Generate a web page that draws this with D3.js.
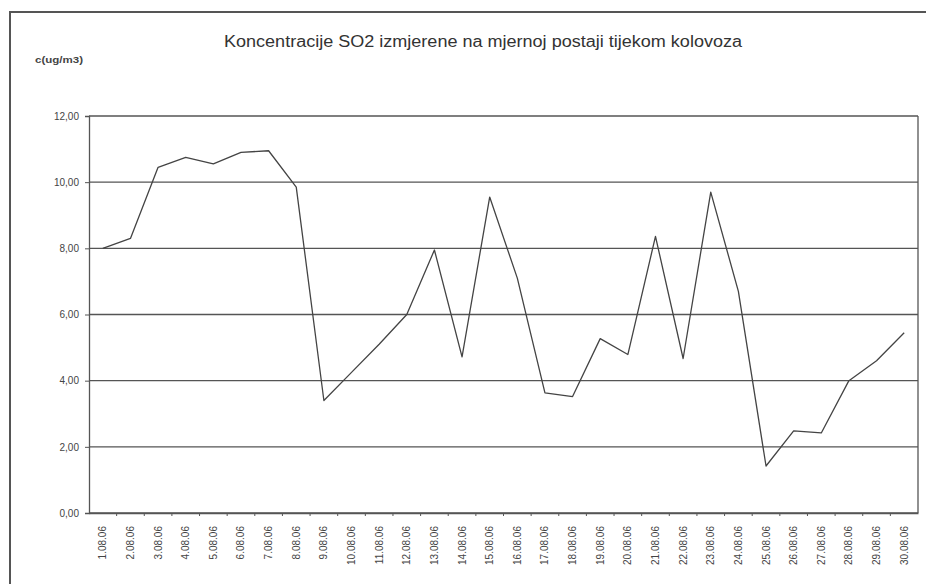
<!DOCTYPE html>
<html>
<head>
<meta charset="utf-8">
<script src="https://cdn.jsdelivr.net/npm/d3@7"></script>
<style>
  body { margin: 0; background: #fff; }
  svg { display: block; }
  .grid line { stroke: #555; stroke-width: 1.3; }
  .axis path, .axis line { stroke: #555; }
  .axis text { fill: #444; font-family: "Liberation Sans Narrow", "Liberation Sans", Arial, sans-serif; }
</style>
</head>
<body>
<svg class="chart"></svg>
<script>
// DATA /////////////////////////////////
const days = ["1.08.06", "2.08.06", "3.08.06", "4.08.06", "5.08.06", "6.08.06", "7.08.06", "8.08.06",
  "9.08.06", "10.08.06", "11.08.06", "12.08.06", "13.08.06", "14.08.06", "15.08.06", "16.08.06",
  "17.08.06", "18.08.06", "19.08.06", "20.08.06", "21.08.06", "22.08.06", "23.08.06", "24.08.06",
  "25.08.06", "26.08.06", "27.08.06", "28.08.06", "29.08.06", "30.08.06"];
const so2 = [8.0, 8.3, 10.45, 10.75, 10.55, 10.9, 10.95, 9.85, 3.4, 4.25, 5.1, 6.0, 7.95, 4.72, 9.55,
  7.1, 3.63, 3.52, 5.27, 4.79, 8.36, 4.67, 9.7, 6.7, 1.42, 2.48, 2.42, 4.0, 4.6, 5.45];
const yTicks = [0, 2, 4, 6, 8, 10, 12];

const title = "Koncentracije SO2 izmjerene na mjernoj postaji tijekom  kolovoza";
const yLabel = "c(ug/m3)";

// DEFINITIONS /////////////////////////////////
const W = 926, H = 584;
const margin = { top: 116, bottom: 71, right: 8, left: 89 };
const width = W - margin.left - margin.right;
const height = H - margin.top - margin.bottom;

const svg = d3.select(".chart").attr("width", W).attr("height", H);

// outer frame of the scanned page
svg.append("path")
  .attr("d", `M10,${H} L10,12 L${W},12`)
  .attr("fill", "none")
  .attr("stroke", "#555")
  .attr("stroke-width", 2);

svg.append("text")
  .attr("x", 483)
  .attr("y", 47)
  .attr("text-anchor", "middle")
  .attr("textLength", 518)
  .attr("lengthAdjust", "spacingAndGlyphs")
  .style("font-family", "'Liberation Sans Narrow', 'Liberation Sans', Arial, sans-serif")
  .style("font-size", "16px")
  .style("fill", "#333")
  .text(title);

svg.append("text")
  .attr("x", 35)
  .attr("y", 63)
  .attr("textLength", 48)
  .attr("lengthAdjust", "spacingAndGlyphs")
  .style("font-family", "'Liberation Sans', Arial, sans-serif")
  .style("font-size", "9px")
  .style("font-weight", "bold")
  .style("fill", "#444")
  .text(yLabel);

const chartG = svg.append("g")
  .attr("transform", `translate(${margin.left}, ${margin.top})`);

const x = d3.scaleBand().domain(days).range([0, width]);
const y = d3.scaleLinear().domain([0, 12]).range([height, 0]);

// grid lines
chartG.append("g")
  .attr("class", "grid")
  .selectAll("line")
  .data(yTicks)
  .join("line")
  .attr("x1", 0)
  .attr("x2", width)
  .attr("y1", (d) => y(d))
  .attr("y2", (d) => y(d));

// right border
chartG.append("line")
  .attr("x1", width).attr("x2", width)
  .attr("y1", 0).attr("y2", height)
  .attr("stroke", "#555").attr("stroke-width", 1.3);

// y axis
const yAxis = chartG.append("g")
  .attr("class", "axis")
  .call(d3.axisLeft(y).tickValues(yTicks).tickSize(4).tickPadding(6)
    .tickFormat((d) => d3.format(".2f")(d).replace(".", ",")));
yAxis.selectAll("text").style("font-size", "10px");
yAxis.select(".domain").attr("stroke-width", 1.3);

// x axis, ticks at band boundaries
const xAxis = chartG.append("g")
  .attr("class", "axis")
  .attr("transform", `translate(0, ${height})`)
  .call(d3.axisBottom(x).tickSize(0).tickPadding(0));
xAxis.select(".domain").attr("stroke-width", 1.3);
xAxis.selectAll("text")
  .style("font-size", "10px")
  .attr("transform", "rotate(-90)")
  .attr("x", -13)
  .attr("y", 0)
  .attr("dy", "0.35em")
  .style("text-anchor", "end");

chartG.append("g")
  .selectAll("line")
  .data(days.slice(1))
  .join("line")
  .attr("x1", (d) => x(d)).attr("x2", (d) => x(d))
  .attr("y1", height).attr("y2", height + 3)
  .attr("stroke", "#555");

// LINE /////////////////////////////////
const line = d3.line()
  .x((d, i) => x(days[i]) + x.bandwidth() / 2)
  .y((d) => y(d));

chartG.append("path")
  .datum(so2)
  .attr("fill", "none")
  .attr("stroke", "#444")
  .attr("stroke-width", 1.3)
  .attr("stroke-linejoin", "round")
  .attr("d", line);
</script>
</body>
</html>
